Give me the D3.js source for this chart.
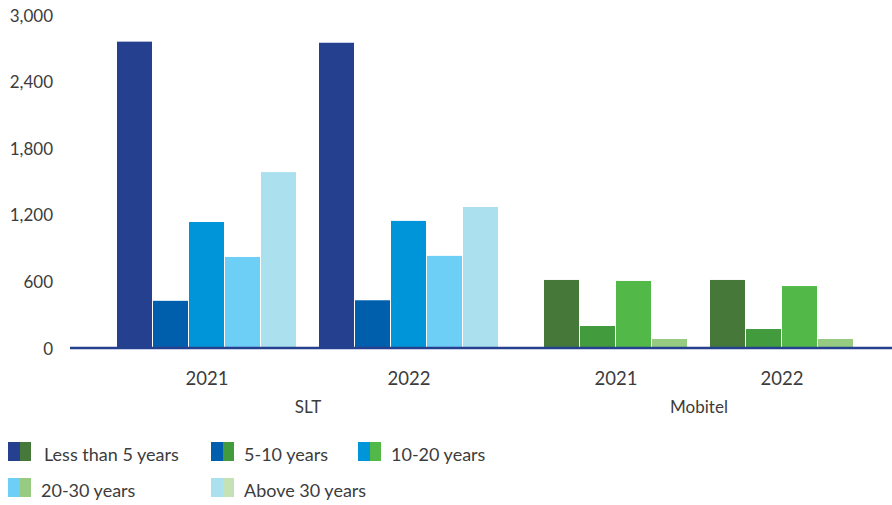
<!DOCTYPE html>
<html><head><meta charset="utf-8">
<script src="https://cdn.jsdelivr.net/npm/d3@7"></script>
<style>
html,body{margin:0;padding:0;background:#fff;}
svg text{font-family:Lato,"Noto Sans",sans-serif;fill:#3c3c3c;}
</style></head>
<body><svg id="c" width="892" height="505"></svg>
<script>
const years = ["2021", "2022"];
const companies = ["SLT", "Mobitel"];
const seriesNames = ["Less than 5 years", "5-10 years", "10-20 years", "20-30 years", "Above 30 years"];
const slt2021 = [2760, 425, 1135, 820, 1585];
const slt2022 = [2750, 430, 1145, 830, 1270];
const mobitel2021 = [613, 198, 604, 81];
const mobitel2022 = [613, 171, 558, 81];
const sltColors = ["#25408f", "#005fad", "#0094d9", "#6dcff6", "#abe0ee"];
const mobitelColors = ["#46783a", "#429b3d", "#52b848", "#97cb82", "#c4e2b5"];
const yTicks = [0, 600, 1200, 1800, 2400, 3000];

const svg = d3.select("#c");
const y = d3.scaleLinear().domain([0, 3000]).range([348, 15]);

// y axis labels
const yAxis = d3.axisLeft(y).tickValues(yTicks).tickFormat(d3.format(",")).tickSize(0).tickPadding(0);
const gy = svg.append("g").attr("transform", "translate(53,0)").call(yAxis);
gy.select(".domain").remove();
gy.selectAll("text").style("font-size", "17px").attr("fill", "#3c3c3c").attr("dy", "0.36em");

const groups = [
  {name: companies[0], data: [slt2021, slt2022], colors: sltColors, x0: 106, x1: 510},
  {name: companies[1], data: [mobitel2021, mobitel2022], colors: mobitelColors, x0: 533, x1: 865}
];

groups.forEach(g => {
  const n = g.data[0].length;
  const xCat = d3.scaleBand().domain(years).range([g.x0, g.x1]);
  const pad = (xCat.bandwidth() - n * 36) / 2;
  const xSer = d3.scaleBand().domain(d3.range(n)).range([pad, pad + n * 36 - 1]).paddingInner(1 / 36);
  years.forEach((yr, i) => {
    const gg = svg.append("g").attr("transform", `translate(${xCat(yr)},0)`);
    gg.selectAll("rect").data(g.data[i]).join("rect")
      .attr("x", (d, j) => xSer(j))
      .attr("width", xSer.bandwidth())
      .attr("y", d => y(d))
      .attr("height", d => y(0) - y(d))
      .attr("fill", (d, j) => g.colors[j]);
  });
  const xa = d3.axisBottom(xCat).tickSize(0).tickPadding(0);
  const gx = svg.append("g").attr("transform", "translate(0,385)").call(xa);
  gx.select(".domain").remove();
  gx.selectAll("text").attr("dy", 0).style("font-size", "18.5px").attr("fill", "#3c3c3c");
  svg.append("text").attr("x", (g.x0 + g.x1) / 2).attr("y", 413)
    .attr("text-anchor", "middle").style("font-size", "17px").text(g.name);
});

// baseline
svg.append("line").attr("x1", 70).attr("x2", 892).attr("y1", y(0)).attr("y2", y(0))
  .attr("stroke", "#25408f").attr("stroke-width", 2.5);

// legend
const legendPos = [[8, 455], [211, 455], [358, 455], [8, 491], [211, 491]];
seriesNames.forEach((s, i) => {
  const [lx, ly] = legendPos[i];
  svg.append("rect").attr("x", lx).attr("y", ly - 13).attr("width", 12).attr("height", 19).attr("fill", sltColors[i]);
  svg.append("rect").attr("x", lx + 12).attr("y", ly - 13).attr("width", 11).attr("height", 19).attr("fill", mobitelColors[i]);
  svg.append("text").attr("x", lx + (i === 0 ? 36 : 33)).attr("y", ly + 6)
    .style("font-size", "18px").text(s);
});
</script></body></html>
